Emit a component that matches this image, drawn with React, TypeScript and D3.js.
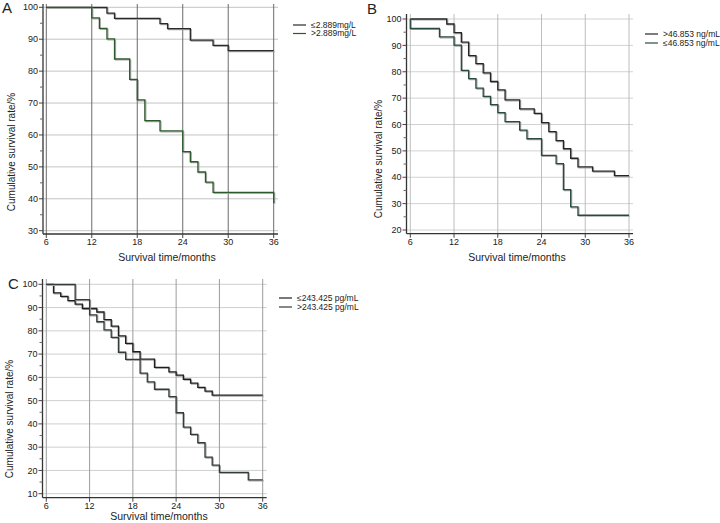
import React from "react";
import * as d3 from "d3";

// ---------- Data ----------
const monthTicks = [6, 12, 18, 24, 30, 36];

// Panel A
const aTicksY = [30, 40, 50, 60, 70, 80, 90, 100];
const aLowTimes = [6, 14, 15, 21, 22, 25, 28, 30];
const aLowSurv = [100, 98.2, 96.5, 94.9, 93.3, 89.7, 88.1, 86.4];
const aHighTimes = [6, 12, 13, 14, 15, 17, 18, 19, 21, 24, 25, 26, 27, 28, 36];
const aHighSurv = [100, 96.7, 93.4, 90.1, 83.8, 77.4, 71.0, 64.5, 61.3, 54.8, 51.6, 48.4, 45.2, 42.0, 38.7];

// Panel B
const bTicksY = [20, 30, 40, 50, 60, 70, 80, 90, 100];
const bHighTimes = [6, 11, 12, 13, 14, 15, 16, 17, 18, 19, 21, 23, 24, 25, 26, 27, 28, 29, 31, 34];
const bHighSurv = [100, 98.1, 94.8, 91.2, 86.1, 83.1, 79.6, 76.3, 73.1, 69.3, 65.9, 64.2, 60.7, 57.3, 53.9, 50.8, 47.2, 43.9, 42.3, 40.6];
const bLowTimes = [6, 6, 10, 12, 13, 14, 15, 16, 17, 18, 19, 21, 22, 24, 26, 27, 28, 29];
const bLowSurv = [100, 96.4, 93.2, 90.1, 80.5, 77.4, 73.8, 70.7, 67.5, 64.5, 61.1, 57.9, 54.6, 48.3, 45.2, 35.3, 28.8, 25.6];

// Panel C
const cTicksY = [10, 20, 30, 40, 50, 60, 70, 80, 90, 100];
const cLowTimes = [6, 7, 8, 9, 10, 11, 13, 14, 15, 16, 17, 18, 19, 21, 23, 24, 25, 26, 27, 28, 29];
const cLowSurv = [100, 96.3, 94.8, 93.0, 91.5, 89.6, 88.1, 84.8, 82.0, 77.8, 74.6, 71.0, 67.8, 64.3, 62.4, 61.0, 59.2, 57.5, 55.7, 54.1, 52.4];
const cHighTimes = [6, 10, 12, 13, 14, 15, 16, 17, 19, 20, 21, 23, 24, 25, 26, 27, 28, 29, 30, 34];
const cHighSurv = [100, 93.4, 86.9, 83.9, 80.4, 77.2, 70.8, 67.7, 61.8, 58.1, 54.9, 51.7, 44.8, 38.6, 35.5, 31.9, 25.7, 22.3, 19.2, 15.9];

const FONT = "'Liberation Sans', Arial, sans-serif";

type Series = { times: number[]; surv: number[]; color: string; label: string };

type PanelCfg = {
  letter: string;
  letterX: number;
  letterY: number;
  x0: number;
  x1: number;
  yMin: number;
  yBottom: number;
  yTop: number;
  axisX: number;
  axisY: number;
  right: number;
  top: number;
  yTicks: number[];
  vGridColor: string;
  hGridColor: string;
  series: Series[];
  legendX: number;
  legendY: number;
  legendGap: number;
  yTitleX: number;
  yTitleY: number;
  xTitleX: number;
  xTitleY: number;
};

function Panel({ cfg }: { cfg: PanelCfg }) {
  const x = d3.scaleLinear().domain([6, 36]).range([cfg.x0, cfg.x1]);
  const y = d3.scaleLinear().domain([cfg.yMin, 100]).range([cfg.yBottom, cfg.yTop]);
  const line = d3
    .line<[number, number]>()
    .x((d) => x(d[0]))
    .y((d) => y(d[1]))
    .curve(d3.curveStepAfter);
  const minor = cfg.yTicks.slice(0, -1).map((t) => t + 5);
  return (
    <g fontFamily={FONT}>
      <text x={cfg.letterX} y={cfg.letterY} fontSize={15} fill="#222">
        {cfg.letter}
      </text>
      {/* horizontal grid */}
      {cfg.yTicks.map((t) => (
        <line key={"h" + t} x1={cfg.axisX} x2={cfg.right} y1={y(t)} y2={y(t)} stroke={cfg.hGridColor} strokeWidth={1} />
      ))}
      {/* vertical grid */}
      {monthTicks.map((t) => (
        <line key={"v" + t} x1={x(t)} x2={x(t)} y1={cfg.top} y2={cfg.axisY} stroke={cfg.vGridColor} strokeWidth={1} />
      ))}
      {/* axes */}
      <line x1={cfg.axisX} x2={cfg.axisX} y1={cfg.top} y2={cfg.axisY} stroke="#333" strokeWidth={1.3} />
      <line x1={cfg.axisX} x2={cfg.right} y1={cfg.axisY} y2={cfg.axisY} stroke="#333" strokeWidth={1.3} />
      {cfg.yTicks.map((t) => (
        <g key={"yt" + t}>
          <line x1={cfg.axisX - 4} x2={cfg.axisX} y1={y(t)} y2={y(t)} stroke="#444" />
          <text x={cfg.axisX - 5} y={y(t)} dy="0.35em" textAnchor="end" fontSize={9} fill="#222">
            {t}
          </text>
        </g>
      ))}
      {minor.map((t) => (
        <line key={"ym" + t} x1={cfg.axisX - 3} x2={cfg.axisX} y1={y(t)} y2={y(t)} stroke="#666" />
      ))}
      {monthTicks.map((t) => (
        <g key={"xt" + t}>
          <line x1={x(t)} x2={x(t)} y1={cfg.axisY} y2={cfg.axisY + 4} stroke="#444" />
          <text x={x(t)} y={cfg.axisY + 8} dy="0.35em" textAnchor="middle" fontSize={9} fill="#222">
            {t}
          </text>
        </g>
      ))}
      {/* curves */}
      {cfg.series.map((s, i) => {
        const pts: [number, number][] = s.times.map((t, j) => [t, s.surv[j]] as [number, number]);
        const last = pts[pts.length - 1];
        if (last[0] < 36) pts.push([36, last[1]]);
        const dStr = line(pts) || "";
        return (
          <g key={"s" + i}>
            <path d={dStr} fill="none" stroke="#a8a8a8" strokeWidth={1.2} transform="translate(1,1)" />
            <path d={dStr} fill="none" stroke={s.color} strokeWidth={1.3} />
          </g>
        );
      })}
      {/* legend */}
      {cfg.series.map((s, i) => (
        <g key={"lg" + i}>
          <line
            x1={cfg.legendX}
            x2={cfg.legendX + 13}
            y1={cfg.legendY + i * cfg.legendGap}
            y2={cfg.legendY + i * cfg.legendGap}
            stroke={s.color}
            strokeWidth={1.2}
          />
          <text x={cfg.legendX + 18} y={cfg.legendY + i * cfg.legendGap} dy="0.35em" fontSize={8.5} fill="#222">
            {s.label}
          </text>
        </g>
      ))}
      {/* titles */}
      <text
        transform={`translate(${cfg.yTitleX},${cfg.yTitleY}) rotate(-90)`}
        textAnchor="middle"
        dy="0.35em"
        fontSize={10}
        fill="#222"
      >
        Cumulative survival rate/%
      </text>
      <text x={cfg.xTitleX} y={cfg.xTitleY} dy="0.35em" textAnchor="middle" fontSize={10.5} fill="#222">
        Survival time/months
      </text>
    </g>
  );
}

const panelA: PanelCfg = {
  letter: "A",
  letterX: 2,
  letterY: 13,
  x0: 46.3,
  x1: 273.7,
  yMin: 30,
  yBottom: 230.7,
  yTop: 7.3,
  axisX: 43,
  axisY: 234,
  right: 278,
  top: 4,
  yTicks: aTicksY,
  vGridColor: "#6a6a6a",
  hGridColor: "#c4c4c4",
  series: [
    { times: aLowTimes, surv: aLowSurv, color: "#2a2a2a", label: "≤2.889mg/L" },
    { times: aHighTimes, surv: aHighSurv, color: "#2c5a2c", label: ">2.889mg/L" },
  ],
  legendX: 293,
  legendY: 25,
  legendGap: 8.5,
  yTitleX: 11,
  yTitleY: 152,
  xTitleX: 167,
  xTitleY: 257,
};

const panelB: PanelCfg = {
  letter: "B",
  letterX: 367,
  letterY: 14,
  x0: 410.3,
  x1: 629,
  yMin: 20,
  yBottom: 230,
  yTop: 19,
  axisX: 406.5,
  axisY: 233.7,
  right: 633,
  top: 14,
  yTicks: bTicksY,
  vGridColor: "#bdbdbd",
  hGridColor: "#d2d2d2",
  series: [
    { times: bHighTimes, surv: bHighSurv, color: "#262626", label: ">46.853 ng/mL" },
    { times: bLowTimes, surv: bLowSurv, color: "#2a4a40", label: "≤46.853 ng/mL" },
  ],
  legendX: 645,
  legendY: 34,
  legendGap: 9,
  yTitleX: 378,
  yTitleY: 159,
  xTitleX: 517,
  xTitleY: 257,
};

const panelC: PanelCfg = {
  letter: "C",
  letterX: 8,
  letterY: 289,
  x0: 46.3,
  x1: 262.7,
  yMin: 10,
  yBottom: 493.7,
  yTop: 284.3,
  axisX: 42.5,
  axisY: 497.7,
  right: 266.7,
  top: 279,
  yTicks: cTicksY,
  vGridColor: "#9c9c9c",
  hGridColor: "#cfcfcf",
  series: [
    { times: cLowTimes, surv: cLowSurv, color: "#1e1e1e", label: "≤243.425  pg/mL" },
    { times: cHighTimes, surv: cHighSurv, color: "#333b3b", label: ">243.425  pg/mL" },
  ],
  legendX: 279,
  legendY: 298,
  legendGap: 9,
  yTitleX: 9,
  yTitleY: 419,
  xTitleX: 159,
  xTitleY: 516.5,
};

export default function App() {
  return (
    <svg
      width={720}
      height={523}
      viewBox="0 0 720 523"
      style={{ position: "absolute", left: 0, top: 0, background: "#fff" }}
    >
      <rect width={720} height={523} fill="#fff" />
      <Panel cfg={panelA} />
      <Panel cfg={panelB} />
      <Panel cfg={panelC} />
    </svg>
  );
}
